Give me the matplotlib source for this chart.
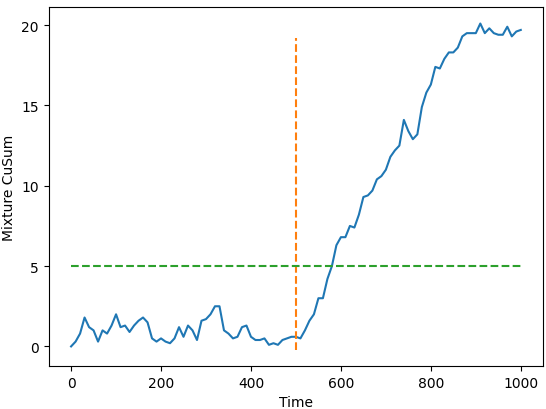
import matplotlib
matplotlib.use("Agg")
import matplotlib.pyplot as plt
import numpy as np

time = np.arange(0, 1001, 10)
cusum = [0.0,0.3,0.8,1.8,1.2,1.0,0.3,1.0,0.8,1.3,
         2.0,1.2,1.3,0.9,1.3,1.6,1.8,1.5,0.5,0.3,
         0.5,0.3,0.2,0.5,1.2,0.6,1.3,1.0,0.4,1.6,
         1.7,2.0,2.5,2.5,1.0,0.8,0.5,0.6,1.2,1.3,
         0.6,0.4,0.4,0.5,0.1,0.2,0.1,0.4,0.5,0.6,
         0.6,0.5,1.0,1.6,2.0,3.0,3.0,4.2,5.0,6.3,
         6.8,6.8,7.5,7.4,8.2,9.3,9.4,9.7,10.4,10.6,
         11.0,11.8,12.2,12.5,14.1,13.4,12.9,13.2,14.9,15.8,
         16.3,17.4,17.3,17.9,18.3,18.3,18.6,19.3,19.5,19.5,
         19.5,20.1,19.5,19.8,19.5,19.4,19.4,19.9,19.3,19.6,19.7]
change_point = 500
vline_range = [-0.2, 19.2]
threshold = 5

fig, ax = plt.subplots(figsize=(5.46, 4.10), dpi=100)
ax.plot(time, cusum, color='#1f77b4')
ax.plot([change_point, change_point], vline_range, '--', color='#ff7f0e')
ax.plot([0, 1000], [threshold, threshold], '--', color='#2ca02c')
ax.set_xlabel('Time')
ax.set_ylabel('Mixture CuSum')
ax.set_yticks([0, 5, 10, 15, 20])
fig.subplots_adjust(left=0.089, right=0.995, top=0.98, bottom=0.105)
fig.savefig('out.png')
